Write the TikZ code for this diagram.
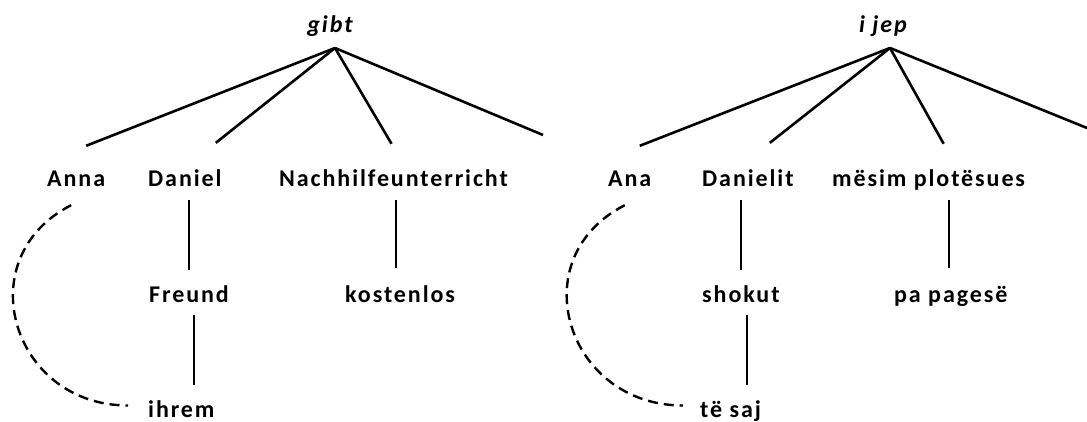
\documentclass[tikz,border=0pt]{standalone}
\usepackage{fontspec}
\setmainfont{Carlito}
\newfontfamily\wordfont[LetterSpace=8]{Carlito}
\usepackage{tikz}
\usetikzlibrary{calc}

\begin{document}
\begin{tikzpicture}[x=1pt, y=1pt,
	word/.style = {inner sep=0pt, anchor=base west, text height=15pt, text depth=4pt,
		font=\wordfont\bfseries\fontsize{24}{24}\selectfont},
	head/.style = {word, anchor=base, font=\wordfont\bfseries\itshape\fontsize{24}{24}\selectfont},
	edge/.style = {line width=2.6pt},
	coref/.style = {line width=2.4pt, dash pattern=on 10pt off 6pt}]
	\useasboundingbox (0,0) rectangle (1087,421);

	% German
	\node[head] (gibt) at (330,388) {gibt};
	\coordinate (gibt-r) at (335,373);
	\coordinate (gibt-e) at (543,286);
	\node[word] (anna) at (47,234) {Anna};
	\node[word] (daniel) at (148,234) {Daniel};
	\node[word] (nachhilfe) at (279,234) {Nachhilfeunterricht};
	\node[word] (freund) at (149,119) {Freund};
	\node[word] (kostenlos) at (345,119) {kostenlos};
	\node[word] (ihrem) at (148,4) {ihrem};

	\draw[edge] (gibt-r) -- ([xshift=10pt,yshift=26pt]anna.north);
	\draw[edge] (gibt-r) -- ([xshift=31pt,yshift=29pt]daniel.north);
	\draw[edge] (gibt-r) -- ([xshift=-2pt,yshift=28pt]nachhilfe.north);
	\draw[edge] (gibt-r) -- (gibt-e);
	\draw[edge, shorten <=9pt, shorten >=17pt] (daniel.south -| freund.north) -- (freund.north);
	\draw[edge, shorten <=9pt, shorten >=17pt] ([xshift=5pt]freund.south) -- ([xshift=5pt]freund.south |- ihrem.north);
	\draw[edge, shorten <=9pt, shorten >=19pt] ([xshift=-4pt]kostenlos.north |- nachhilfe.south) -- ([xshift=-4pt]kostenlos.north);
	\draw[coref] ([shift={(-5,-14)}]anna.south) to[out=207, in=180, looseness=1.43] ([shift={(-20,6)}]ihrem.west);

	% Albanian
	\node[head] (ijep) at (883,388) {i jep};
	\coordinate (ijep-r) at (890,373);
	\coordinate (ijep-e) at (1087,293);
	\node[word] (ana) at (608,234) {Ana};
	\node[word] (danielit) at (702,234) {Danielit};
	\node[word] (mesim) at (832,234) {mësim plotësues};
	\node[word] (shokut) at (702,119) {shokut};
	\node[word] (papagese) at (894,119) {pa pagesë};
	\node[word] (tesaj) at (700,4) {të saj};

	\draw[edge] (ijep-r) -- ([xshift=10pt,yshift=26pt]ana.north);
	\draw[edge] (ijep-r) -- ([xshift=22pt,yshift=29pt]danielit.north);
	\draw[edge] (ijep-r) -- ([xshift=15pt,yshift=28pt]mesim.north);
	\draw[edge] (ijep-r) -- (ijep-e);
	\draw[edge, shorten <=9pt, shorten >=17pt] (danielit.south -| shokut.north) -- (shokut.north);
	\draw[edge, shorten <=9pt, shorten >=17pt] ([xshift=6pt]shokut.south) -- ([xshift=6pt]shokut.south |- tesaj.north);
	\draw[edge, shorten <=9pt, shorten >=19pt] ([xshift=-2pt]papagese.north |- mesim.south) -- ([xshift=-2pt]papagese.north);
	\draw[coref] ([shift={(-5,-14)}]ana.south) to[out=207, in=180, looseness=1.43] ([shift={(-17,6)}]tesaj.west);
\end{tikzpicture}
\end{document}
